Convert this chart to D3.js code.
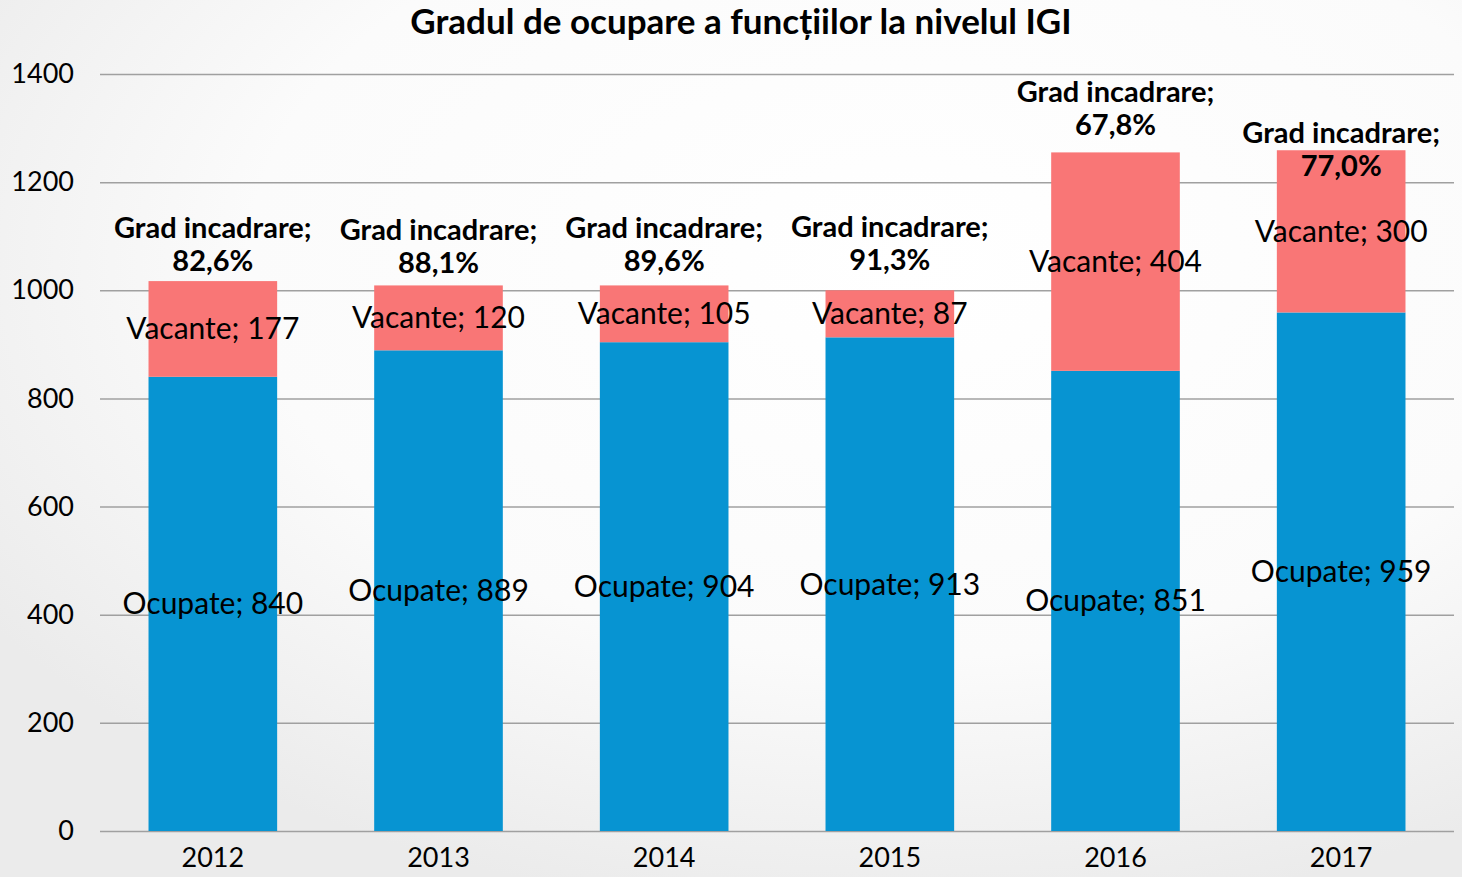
<!DOCTYPE html>
<html>
<head>
<meta charset="utf-8">
<script src="https://cdn.jsdelivr.net/npm/d3@7"></script>
<style>
  html, body { margin: 0; padding: 0; }
  body { width: 1462px; height: 877px; overflow: hidden; }
  svg text { font-family: Lato, "Open Sans", sans-serif; fill: #000; }
</style>
</head>
<body>
<div id="chart"></div>
<script>
// date
const years = ['2012', '2013', '2014', '2015', '2016', '2017'];
const ocupate = [840, 889, 904, 913, 851, 959];
const vacante = [177, 120, 105, 87, 404, 300];
const gradIncadrare = ['82,6%', '88,1%', '89,6%', '91,3%', '67,8%', '77,0%'];
const yTicks = [0, 200, 400, 600, 800, 1000, 1200, 1400];

const width = 1462;
const height = 877;
const margin = { top: 74, right: 8, bottom: 46, left: 100 };

const svg = d3.select('#chart')
    .append('svg')
    .attr('width', width)
    .attr('height', height);

// fundal cu gradient usor
const defs = svg.append('defs');
const grad = defs.append('radialGradient')
    .attr('id', 'bg')
    .attr('cx', '62%').attr('cy', '30%').attr('r', '75%');
grad.append('stop').attr('offset', '0%').attr('stop-color', '#ffffff');
grad.append('stop').attr('offset', '60%').attr('stop-color', '#fbfbfb');
grad.append('stop').attr('offset', '100%').attr('stop-color', '#ebebeb');
svg.append('rect').attr('width', width).attr('height', height).attr('fill', 'url(#bg)');

const x = d3.scaleBand()
    .domain(years)
    .range([margin.left, width - margin.right])
    .paddingInner(0.43)
    .paddingOuter(0.215);

const y = d3.scaleLinear()
    .domain([0, 1400])
    .range([height - margin.bottom, margin.top]);

// titlu
svg.append('text')
    .attr('x', 741)
    .attr('y', 34)
    .attr('text-anchor', 'middle')
    .style('font-size', '35px')
    .style('font-weight', 'bold')
    .text('Gradul de ocupare a funcțiilor la nivelul IGI');

// axa y + grila
const yAxis = svg.append('g')
    .attr('transform', `translate(${margin.left},0)`)
    .call(d3.axisLeft(y).tickValues(yTicks).tickFormat(d3.format('d'))
        .tickSize(-(width - margin.left - margin.right)).tickPadding(26));
yAxis.select('.domain').remove();
yAxis.selectAll('.tick line').attr('stroke', '#a0a0a0').attr('stroke-width', 1.5);
yAxis.selectAll('.tick text')
    .style('font-size', '27px')
    .style('font-family', 'Lato, sans-serif')
    .attr('fill', '#000');

// axa x
const xAxis = svg.append('g')
    .attr('transform', `translate(0,${height - margin.bottom})`)
    .call(d3.axisBottom(x).tickSize(0).tickPadding(17));
xAxis.select('.domain').remove();
xAxis.selectAll('.tick text')
    .style('font-size', '27px')
    .style('font-family', 'Lato, sans-serif')
    .attr('fill', '#000');

const rows = years.map((yr, i) => ({ yr, oc: ocupate[i], vac: vacante[i], grad: gradIncadrare[i], i }));

// bare ocupate
svg.append('g').selectAll('rect')
    .data(rows)
    .enter()
    .append('rect')
    .attr('x', d => x(d.yr))
    .attr('width', x.bandwidth())
    .attr('y', d => y(d.oc))
    .attr('height', d => y(0) - y(d.oc))
    .attr('fill', '#0794d2');

// bare vacante
svg.append('g').selectAll('rect')
    .data(rows)
    .enter()
    .append('rect')
    .attr('x', d => x(d.yr))
    .attr('width', x.bandwidth())
    .attr('y', d => y(d.oc + d.vac))
    .attr('height', d => y(d.oc) - y(d.oc + d.vac))
    .attr('fill', '#f97676');

// etichete
const cx = d => x(d.yr) + x.bandwidth() / 2;

svg.append('g').selectAll('text')
    .data(rows)
    .enter()
    .append('text')
    .attr('x', cx)
    .attr('y', d => (y(0) + y(d.oc)) / 2)
    .attr('dy', '0.35em')
    .attr('text-anchor', 'middle')
    .style('font-size', '30px')
    .text(d => `Ocupate; ${d.oc}`);

svg.append('g').selectAll('text')
    .data(rows)
    .enter()
    .append('text')
    .attr('x', cx)
    .attr('y', d => (y(d.oc) + y(d.oc + d.vac)) / 2)
    .attr('dy', '0.35em')
    .attr('text-anchor', 'middle')
    .style('font-size', '30px')
    .text(d => `Vacante; ${d.vac}`);

// eticheta grad incadrare (ultima e mutata peste bara, ca in original)
const gradShift = [-36, -39, -41, -46, -44, 0];
const gl = svg.append('g').selectAll('text')
    .data(rows)
    .enter()
    .append('text')
    .attr('text-anchor', 'middle')
    .style('font-size', '29px')
    .style('font-weight', 'bold')
    .attr('transform', d => `translate(${cx(d)},${y(d.oc + d.vac) + gradShift[d.i]})`);
gl.append('tspan').attr('x', 0).attr('y', -17).attr('dy', '0.35em').text('Grad incadrare;');
gl.append('tspan').attr('x', 0).attr('y', 16).attr('dy', '0.35em').text(d => d.grad);
</script>
</body>
</html>
